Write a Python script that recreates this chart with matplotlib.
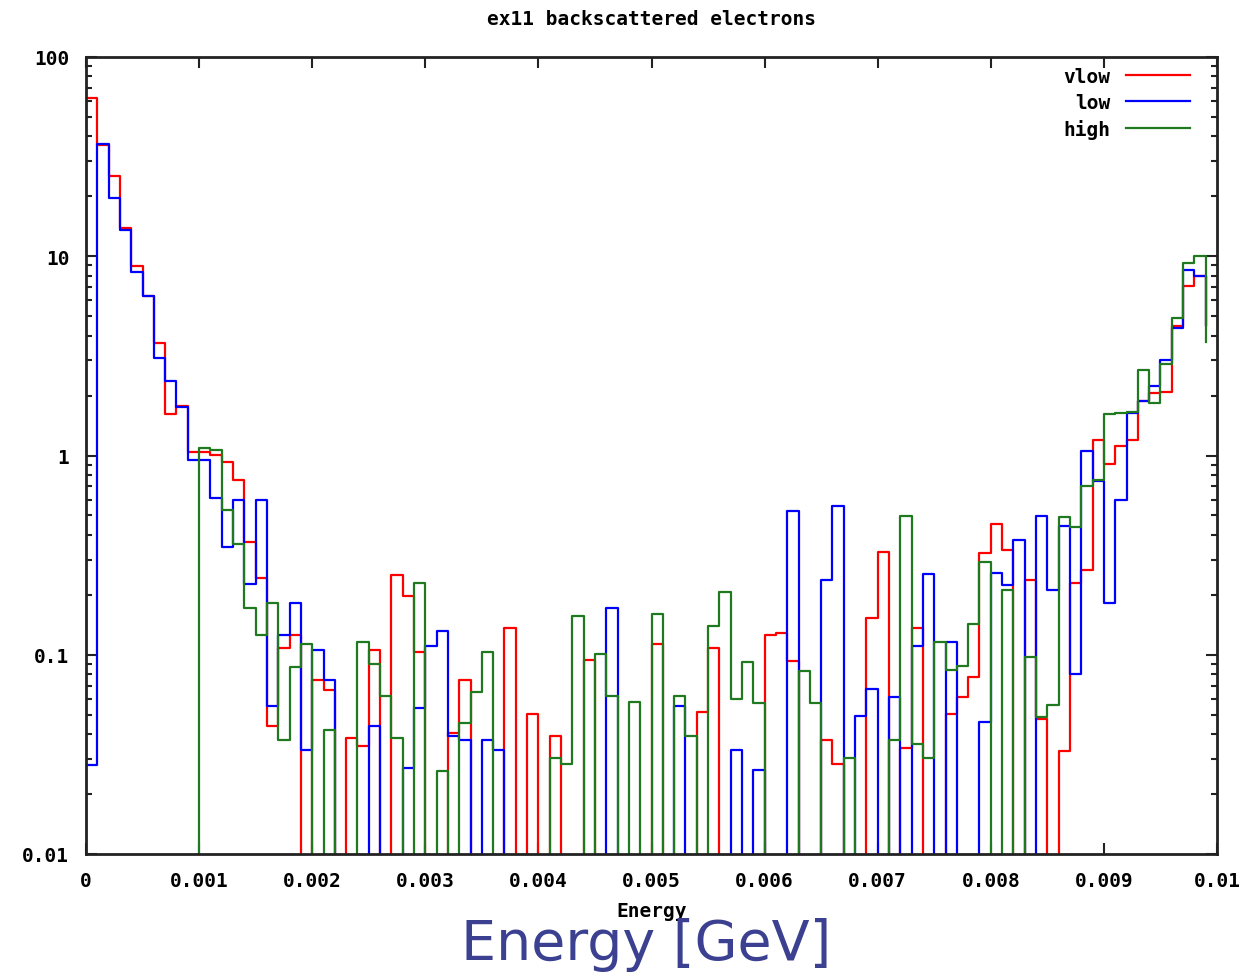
"""
ex11 backscattered electrons: energy spectra for three thresholds,
drawn gnuplot-style as steps on a log axis.
"""
import numpy as np
import matplotlib
matplotlib.use('Agg')
import matplotlib.pyplot as plt
from matplotlib.ticker import FixedLocator, LogLocator, NullFormatter


###########  data  ###########

# left edge of each 0.1 MeV bin
energy_bins = np.round(np.arange(100) * 0.0001, 4)

vlow = [62, 36, 25.4, 13.9, 8.97, 6.34, 3.66, 1.61, 1.77, 1.045,
        1.045, 1.006, 0.93, 0.756, 0.369, 0.243, 0.044, 0.1085, 0.125, 0,
        0.0747, 0.0668, 0, 0.0382, 0.0347, 0.106, 0, 0.25, 0.198, 0.1036,
        0, 0, 0.0405, 0.075, 0, 0, 0, 0.136, 0, 0.0504,
        0, 0.0393, 0, 0, 0.0944, 0, 0, 0, 0, 0,
        0.113, 0, 0, 0, 0.0518, 0.108, 0, 0, 0, 0,
        0.125, 0.1286, 0.0927, 0, 0, 0.0375, 0.0284, 0, 0, 0.153,
        0.329, 0, 0.0342, 0.136, 0, 0, 0.0504, 0.0611, 0.077, 0.323,
        0.453, 0.337, 0, 0.237, 0.0476, 0, 0.0328, 0.229, 0.267, 1.20,
        0.906, 1.12, 1.20, 1.87, 2.05, 2.09, 4.49, 7.12, 7.99, 4.5]

low = [0.028, 36.7, 19.6, 13.6, 8.36, 6.34, 3.08, 2.36, 1.75, 0.953,
       0.953, 0.612, 0.346, 0.60, 0.227, 0.60, 0.0555, 0.125, 0.181, 0.0333,
       0.106, 0.075, 0, 0, 0, 0.044, 0, 0, 0.027, 0.054,
       0.111, 0.131, 0.0392, 0.0375, 0, 0.0375, 0.0334, 0, 0, 0,
       0, 0, 0, 0, 0, 0, 0.1716, 0, 0, 0,
       0, 0, 0.0555, 0, 0, 0, 0, 0.0333, 0, 0.0265,
       0, 0, 0.525, 0, 0, 0.238, 0.56, 0, 0.0495, 0.0673,
       0, 0.0611, 0, 0.111, 0.254, 0, 0.116, 0, 0, 0.0461,
       0.257, 0.224, 0.377, 0, 0.499, 0.211, 0.445, 0.080, 1.05, 0.745,
       0.181, 0.60, 1.63, 1.88, 2.24, 3.02, 4.36, 8.53, 7.99, 4.5]

high = [0, 0, 0, 0, 0, 0, 0, 0, 0, 0,
        1.095, 1.07, 0.535, 0.36, 0.172, 0.125, 0.181, 0.0375, 0.0865, 0.113,
        0, 0.0419, 0, 0, 0.116, 0.090, 0.0624, 0.0382, 0, 0.228,
        0, 0.026, 0, 0.0453, 0.0653, 0.1036, 0, 0, 0, 0,
        0, 0.0303, 0.0283, 0.156, 0, 0.1008, 0.0623, 0, 0.0581, 0,
        0.161, 0, 0.0623, 0.0392, 0, 0.140, 0.207, 0.060, 0.0923, 0.057,
        0, 0, 0, 0.0826, 0.057, 0, 0, 0.0303, 0, 0,
        0, 0.0375, 0.499, 0.0357, 0.0303, 0.116, 0.084, 0.0881, 0.1432, 0.293,
        0, 0.211, 0, 0.097, 0.0485, 0.056, 0.490, 0.436, 0.706, 0.75,
        1.62, 1.63, 1.66, 2.69, 1.83, 2.88, 4.90, 9.22, 10.07, 3.70]

series_names = ['vlow', 'low', 'high']
series_colors = ['#ff0000', '#0000ff', '#1f7a1f']

x_ticks = [0, 0.001, 0.002, 0.003, 0.004, 0.005, 0.006, 0.007, 0.008, 0.009, 0.01]
x_ticklabels = ['0', '0.001', '0.002', '0.003', '0.004', '0.005',
                '0.006', '0.007', '0.008', '0.009', '0.01']
y_ticks = [0.01, 0.1, 1, 10, 100]
y_ticklabels = ['0.01', '0.1', '1', '10', '100']

MONO = 'DejaVu Sans Mono'
FLOOR = 1e-6   # empty bins fall off the bottom of the log axis

###########################################


fig = plt.figure(figsize=(12.54, 9.78), dpi=100)
ax = fig.add_axes([86/1254, 1-855/978, (1217-86)/1254, (855-58)/978])

for name, vals, col in zip(series_names, [vlow, low, high], series_colors):
    y = np.array(vals, dtype=float)
    y = np.where(y > 0, y, FLOOR)
    ax.step(energy_bins, y, where='post', color=col, lw=1.6, label=name)

ax.set_yscale('log')
ax.set_xlim(0, 0.01)
ax.set_ylim(0.01, 100)

ax.xaxis.set_major_locator(FixedLocator(x_ticks))
ax.set_xticklabels(x_ticklabels)
ax.yaxis.set_major_locator(FixedLocator(y_ticks))
ax.set_yticklabels(y_ticklabels)
ax.yaxis.set_minor_locator(LogLocator(base=10, subs=range(2, 10)))
ax.yaxis.set_minor_formatter(NullFormatter())

ax.tick_params(which='both', direction='in', top=True, right=True,
               width=1.5, color='#222222')
ax.tick_params(which='major', length=8)
ax.tick_params(which='minor', length=4)
ax.tick_params(axis='x', pad=12)
ax.tick_params(axis='y', pad=12)
for lab in ax.get_xticklabels() + ax.get_yticklabels():
    lab.set_fontfamily(MONO)
    lab.set_fontweight('bold')
    lab.set_fontsize(14)

for sp in ax.spines.values():
    sp.set_linewidth(2)
    sp.set_color('#222222')

ax.set_title('ex11 backscattered electrons', fontfamily=MONO,
             fontweight='bold', fontsize=14, pad=24)
ax.set_xlabel('Energy', fontfamily=MONO, fontweight='bold',
              fontsize=14, labelpad=8)

leg = ax.legend(loc='upper right', bbox_to_anchor=(0.976, 0.988),
                frameon=False, markerfirst=False, borderpad=0,
                borderaxespad=0, handlelength=3.3, handletextpad=0.8,
                labelspacing=0.36,
                prop={'family': MONO, 'weight': 'bold', 'size': 14})

# slide caption overlaid on the gnuplot axis label
fig.text(0.515, 1-945/978, 'Energy [GeV]', ha='center', va='center',
         fontsize=40, color='#3b4090', fontfamily='DejaVu Sans')

fig.savefig('out.png', dpi=100)
